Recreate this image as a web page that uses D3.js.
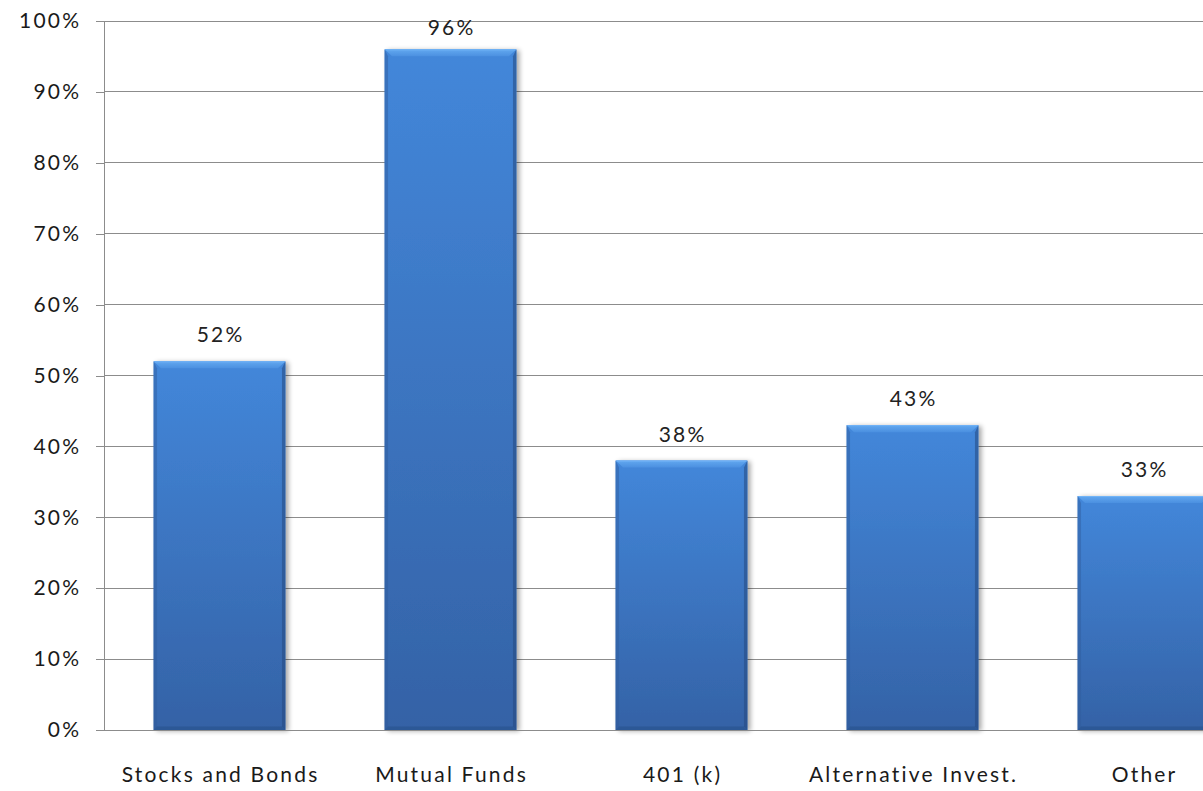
<!DOCTYPE html>
<html><head><meta charset="utf-8">
<script src="https://cdn.jsdelivr.net/npm/d3@7"></script>
<style>body{margin:0;background:#fff;overflow:hidden}svg{display:block}</style>
</head><body>
<svg id="chart" width="1203" height="791"></svg>
<script>
const categories = ["Stocks and Bonds", "Mutual Funds", "401 (k)", "Alternative Invest.", "Other"];
const values = [52, 96, 38, 43, 33];
const valueLabels = ["52%", "96%", "38%", "43%", "33%"];
const yTicks = [0, 10, 20, 30, 40, 50, 60, 70, 80, 90, 100];
const tickLabels = ["0%", "10%", "20%", "30%", "40%", "50%", "60%", "70%", "80%", "90%", "100%"];

const svg = d3.select("#chart");
const font = "Lato, 'Open Sans', sans-serif";
const fs = 21, ls = 2.2;
const x = d3.scaleBand().domain(categories).range([104, 1259]).padding(0);
const y = d3.scaleLinear().domain([0, 100]).range([730, 21]);
const barW = x.bandwidth() * 0.571;

const defs = svg.append("defs");
const g1 = defs.append("linearGradient").attr("id", "barGrad").attr("x1", 0).attr("y1", 0).attr("x2", 0).attr("y2", 1);
g1.append("stop").attr("offset", "0%").attr("stop-color", "#4387da");
g1.append("stop").attr("offset", "100%").attr("stop-color", "#3462a6");
const gTop = defs.append("linearGradient").attr("id", "topGrad").attr("x1", 0).attr("y1", 0).attr("x2", 0).attr("y2", 1);
gTop.append("stop").attr("offset", "0%").attr("stop-color", "#62a8f0");
gTop.append("stop").attr("offset", "100%").attr("stop-color", "#4b90e0");
const f = defs.append("filter").attr("id", "shadow").attr("x", "-10%").attr("y", "-10%").attr("width", "130%").attr("height", "120%");
f.append("feGaussianBlur").attr("in", "SourceAlpha").attr("stdDeviation", 2.5);
f.append("feOffset").attr("dx", 3).attr("dy", 1).attr("result", "b");
f.append("feComponentTransfer").append("feFuncA").attr("type", "linear").attr("slope", 0.35);
const fm = f.append("feMerge"); fm.append("feMergeNode"); fm.append("feMergeNode").attr("in", "SourceGraphic");

// gridlines
svg.append("g").selectAll("line").data(yTicks.filter(d => d > 0)).join("line")
  .attr("x1", 104).attr("x2", 1203).attr("y1", d => y(d)).attr("y2", d => y(d))
  .attr("stroke", "#8c8c8c").attr("stroke-width", 1).attr("shape-rendering", "crispEdges");

// y axis
const yAxis = d3.axisLeft(y).tickValues(yTicks).tickSize(8).tickPadding(17 - ls)
  .tickFormat((d, i) => tickLabels[i]);
const ya = svg.append("g").attr("transform", "translate(104,0)").call(yAxis);
ya.select(".domain").attr("stroke", "#8c8c8c").attr("shape-rendering", "crispEdges");
ya.selectAll(".tick line").attr("stroke", "#8c8c8c").attr("shape-rendering", "crispEdges");
ya.selectAll("text").attr("font-family", font).attr("font-size", fs).attr("letter-spacing", ls).attr("fill", "#1a1a1a");

// bars
const bars = svg.append("g").selectAll("g").data(categories).join("g");
bars.each(function(c, i) {
  const g = d3.select(this);
  const x0 = x(c) + (x.bandwidth() - barW) / 2, x1 = x0 + barW;
  const yt = y(values[i]), yb = y(0);
  const b = 7;
  g.append("rect").attr("x", x0).attr("y", yt).attr("width", barW).attr("height", yb - yt)
    .attr("fill", "url(#barGrad)").attr("filter", "url(#shadow)");
  g.append("polygon").attr("points", [[x0, yt], [x0 + b * 0.5, yt + b], [x0 + b * 0.5, yb - b * 0.5], [x0, yb]].join(" "))
    .attr("fill", "#2f5c9c").attr("opacity", 0.45);
  g.append("polygon").attr("points", [[x1, yt], [x1 - b * 0.5, yt + b], [x1 - b * 0.5, yb - b * 0.5], [x1, yb]].join(" "))
    .attr("fill", "#24497f").attr("opacity", 0.55);
  g.append("polygon").attr("points", [[x0, yb], [x0 + b * 0.5, yb - b * 0.5], [x1 - b * 0.5, yb - b * 0.5], [x1, yb]].join(" "))
    .attr("fill", "#2a5490").attr("opacity", 0.7);
  g.append("polygon").attr("points", [[x0, yt], [x1, yt], [x1 - b * 0.5 - 4, yt + b], [x0 + b * 0.5 + 4, yt + b]].join(" "))
    .attr("fill", "url(#topGrad)");
  g.append("line").attr("x1", x0 + 1).attr("x2", x1 - 1).attr("y1", yt + 0.5).attr("y2", yt + 0.5)
    .attr("stroke", "#72b4f7").attr("stroke-width", 1);
});

// baseline
svg.append("line").attr("x1", 96).attr("x2", 1203).attr("y1", y(0)).attr("y2", y(0))
  .attr("stroke", "#8c8c8c").attr("shape-rendering", "crispEdges");

// value labels
svg.append("g").selectAll("text").data(categories).join("text")
  .attr("x", c => x(c) + x.bandwidth() / 2 + ls / 2).attr("y", (c, i) => Math.max(y(values[i]) - 19, 35))
  .attr("text-anchor", "middle").attr("font-family", font).attr("font-size", fs).attr("letter-spacing", ls).attr("fill", "#222")
  .text((c, i) => valueLabels[i]);

// category labels
svg.append("g").selectAll("text").data(categories).join("text")
  .attr("x", c => x(c) + x.bandwidth() / 2 + ls / 2).attr("y", 782)
  .attr("text-anchor", "middle").attr("font-family", font).attr("font-size", fs).attr("letter-spacing", ls).attr("fill", "#1a1a1a")
  .text(c => c);
</script>
</body></html>
